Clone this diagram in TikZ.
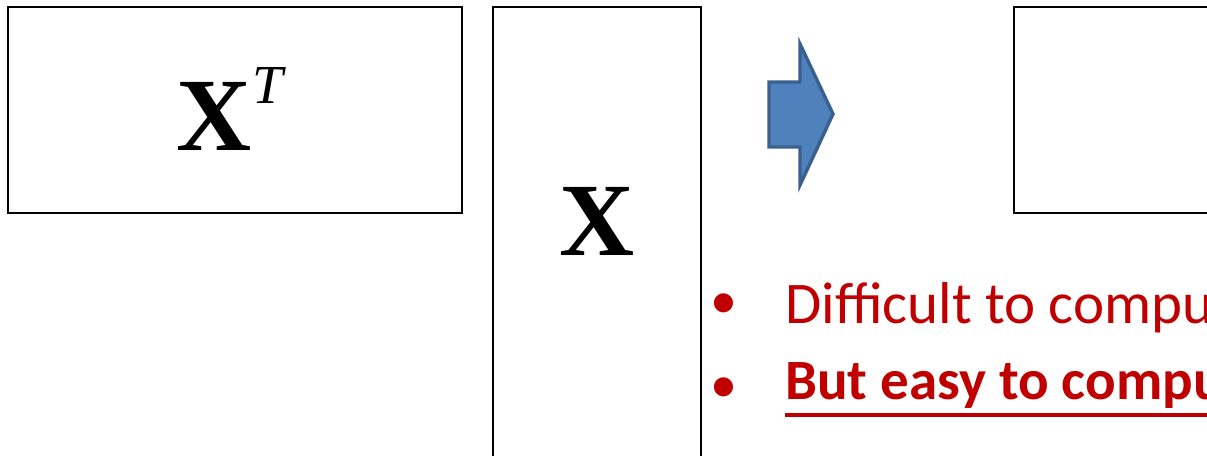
\documentclass[tikz,border=0pt]{standalone}
\usepackage{fontspec}
\setmainfont{Liberation Serif}
\newfontfamily\calibri{Carlito}
\definecolor{offred}{HTML}{C00000}
\definecolor{arrowfill}{HTML}{4F81BD}
\definecolor{arrowline}{HTML}{3A6090}
\begin{document}
\begin{tikzpicture}[x=1pt,y=-1pt,
  box/.style={draw=black,line width=1.6pt,fill=white},
  bigmath/.style={inner sep=0pt,font=\fontsize{104}{104}\selectfont},
  bullettext/.style={inner sep=0pt,text=offred,font=\calibri\fontsize{59}{59}\selectfont},
  bulletdot/.style={inner sep=0pt,text=offred,font=\calibri\fontsize{54}{54}\selectfont}]
\useasboundingbox (0,0) rectangle (1207,455);
\begin{scope}
\clip (0,0) rectangle (1207,455);
\fill[white] (0,0) rectangle (1207,455);
% boxes
\draw[box] (8,7) rectangle (462,213);
\draw[box] (493,7) rectangle (701,470);
\draw[box] (1014,7) rectangle (1230,213);
% labels
\node[bigmath,anchor=base west] (xt) at (176,150) {\textbf{X}};
\node[inner sep=0pt,anchor=base west,font=\fontsize{55}{55}\selectfont\itshape] (tt) at (252,103) {T};
\node[bigmath,anchor=base west] (x) at (559,255) {\textbf{X}};
% block arrow
\draw[line width=3.4pt,arrowline,fill=arrowfill,line join=miter]
  (769,82) -- (800,82) -- (800,44) -- (833,114) -- (800,185) -- (800,147) -- (769,147) -- cycle;
% bullets
\node[bulletdot,anchor=base west] (b1) at (710,318) {•};
\node[bullettext,anchor=base west] (t1) at (785,323) {Difficult to compute};
\node[bulletdot,anchor=base west] (b2) at (710,402) {•};
\node[bullettext,anchor=base west,font=\calibri\bfseries\fontsize{57}{57}\selectfont] (t2) at (785,399) {But easy to compute};
\draw[offred,line width=4pt] (785,415) -- (1250,415);
\end{scope}
\end{tikzpicture}
\end{document}
